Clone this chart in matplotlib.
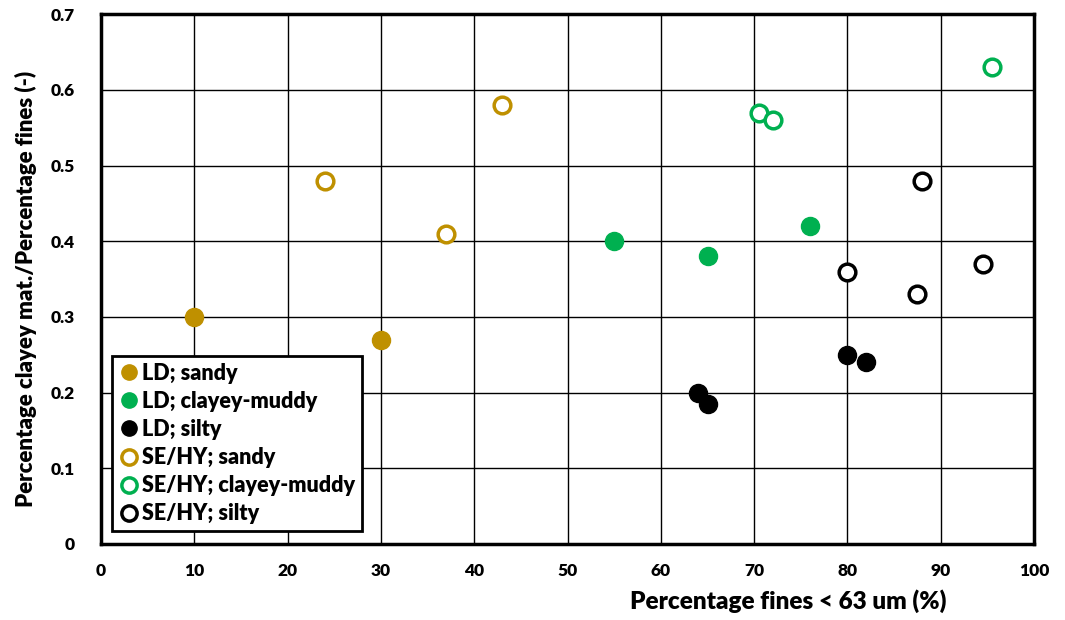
import matplotlib
matplotlib.use("Agg")
import matplotlib.pyplot as plt

plt.rcParams["font.family"] = ["Lato", "DejaVu Sans"]
plt.rcParams["font.weight"] = "heavy"

# data
ld_sandy_x = [10, 30]
ld_sandy_y = [0.30, 0.27]
ld_clay_x = [55, 65, 76]
ld_clay_y = [0.40, 0.38, 0.42]
ld_silty_x = [64, 65, 80, 82]
ld_silty_y = [0.20, 0.185, 0.25, 0.24]
se_sandy_x = [24, 37, 43]
se_sandy_y = [0.48, 0.41, 0.58]
se_clay_x = [70.5, 72, 95.5]
se_clay_y = [0.57, 0.56, 0.63]
se_silty_x = [80, 88, 87.5, 94.5]
se_silty_y = [0.36, 0.48, 0.33, 0.37]

GOLD = "#BF9000"
GREEN = "#00B050"
BLACK = "#000000"

fig = plt.figure(figsize=(10.65, 6.2), dpi=100)
ax = fig.add_axes([0.0948, 0.1226, 0.8762, 0.8544])

ms = 13
ax.plot(ld_sandy_x, ld_sandy_y, "o", ms=ms, color=GOLD, mec=GOLD, label="LD; sandy", zorder=3)
ax.plot(ld_clay_x, ld_clay_y, "o", ms=ms, color=GREEN, mec=GREEN, label="LD; clayey-muddy", zorder=3)
ax.plot(ld_silty_x, ld_silty_y, "o", ms=ms, color=BLACK, mec=BLACK, label="LD; silty", zorder=3)
ax.plot(se_sandy_x, se_sandy_y, "o", ms=ms - 1, mfc="white", mec=GOLD, mew=2.5, label="SE/HY; sandy", zorder=3)
ax.plot(se_clay_x, se_clay_y, "o", ms=ms - 1, mfc="white", mec=GREEN, mew=2.5, label="SE/HY; clayey-muddy", zorder=3)
ax.plot(se_silty_x, se_silty_y, "o", ms=ms - 1, mfc="white", mec=BLACK, mew=2.5, label="SE/HY; silty", zorder=3)

ax.set_xlim(0, 100)
ax.set_ylim(0, 0.7)
ax.set_xticks(range(0, 101, 10))
ax.set_yticks([0, 0.1, 0.2, 0.3, 0.4, 0.5, 0.6, 0.7])
ax.set_yticklabels(["0", "0.1", "0.2", "0.3", "0.4", "0.5", "0.6", "0.7"])
ax.grid(True, color="black", linewidth=1.0)
ax.set_axisbelow(True)
for sp in ax.spines.values():
    sp.set_linewidth(2.5)
ax.tick_params(length=0, labelsize=12.5)
ax.tick_params(axis="x", pad=14)
ax.tick_params(axis="y", pad=19)

ax.set_xlabel("Percentage fines < 63 um (%)", fontsize=17.5, fontweight="heavy")
ax.xaxis.set_label_coords(0.737, -0.085)
ax.set_ylabel("Percentage clayey mat./Percentage fines (-)", fontsize=16, fontweight="heavy")
ax.yaxis.set_label_coords(-0.069, 0.482)

leg = ax.legend(loc="lower left", bbox_to_anchor=(0.012, 0.025), fontsize=15.5,
                frameon=True, fancybox=False, edgecolor="black", framealpha=1,
                handletextpad=0.1, borderpad=0.3, labelspacing=0.33,
                handlelength=1.0, borderaxespad=0)
leg.get_frame().set_linewidth(2)
for h in leg.legend_handles:
    h.set_markersize(11)

fig.savefig("out.png", dpi=100)
